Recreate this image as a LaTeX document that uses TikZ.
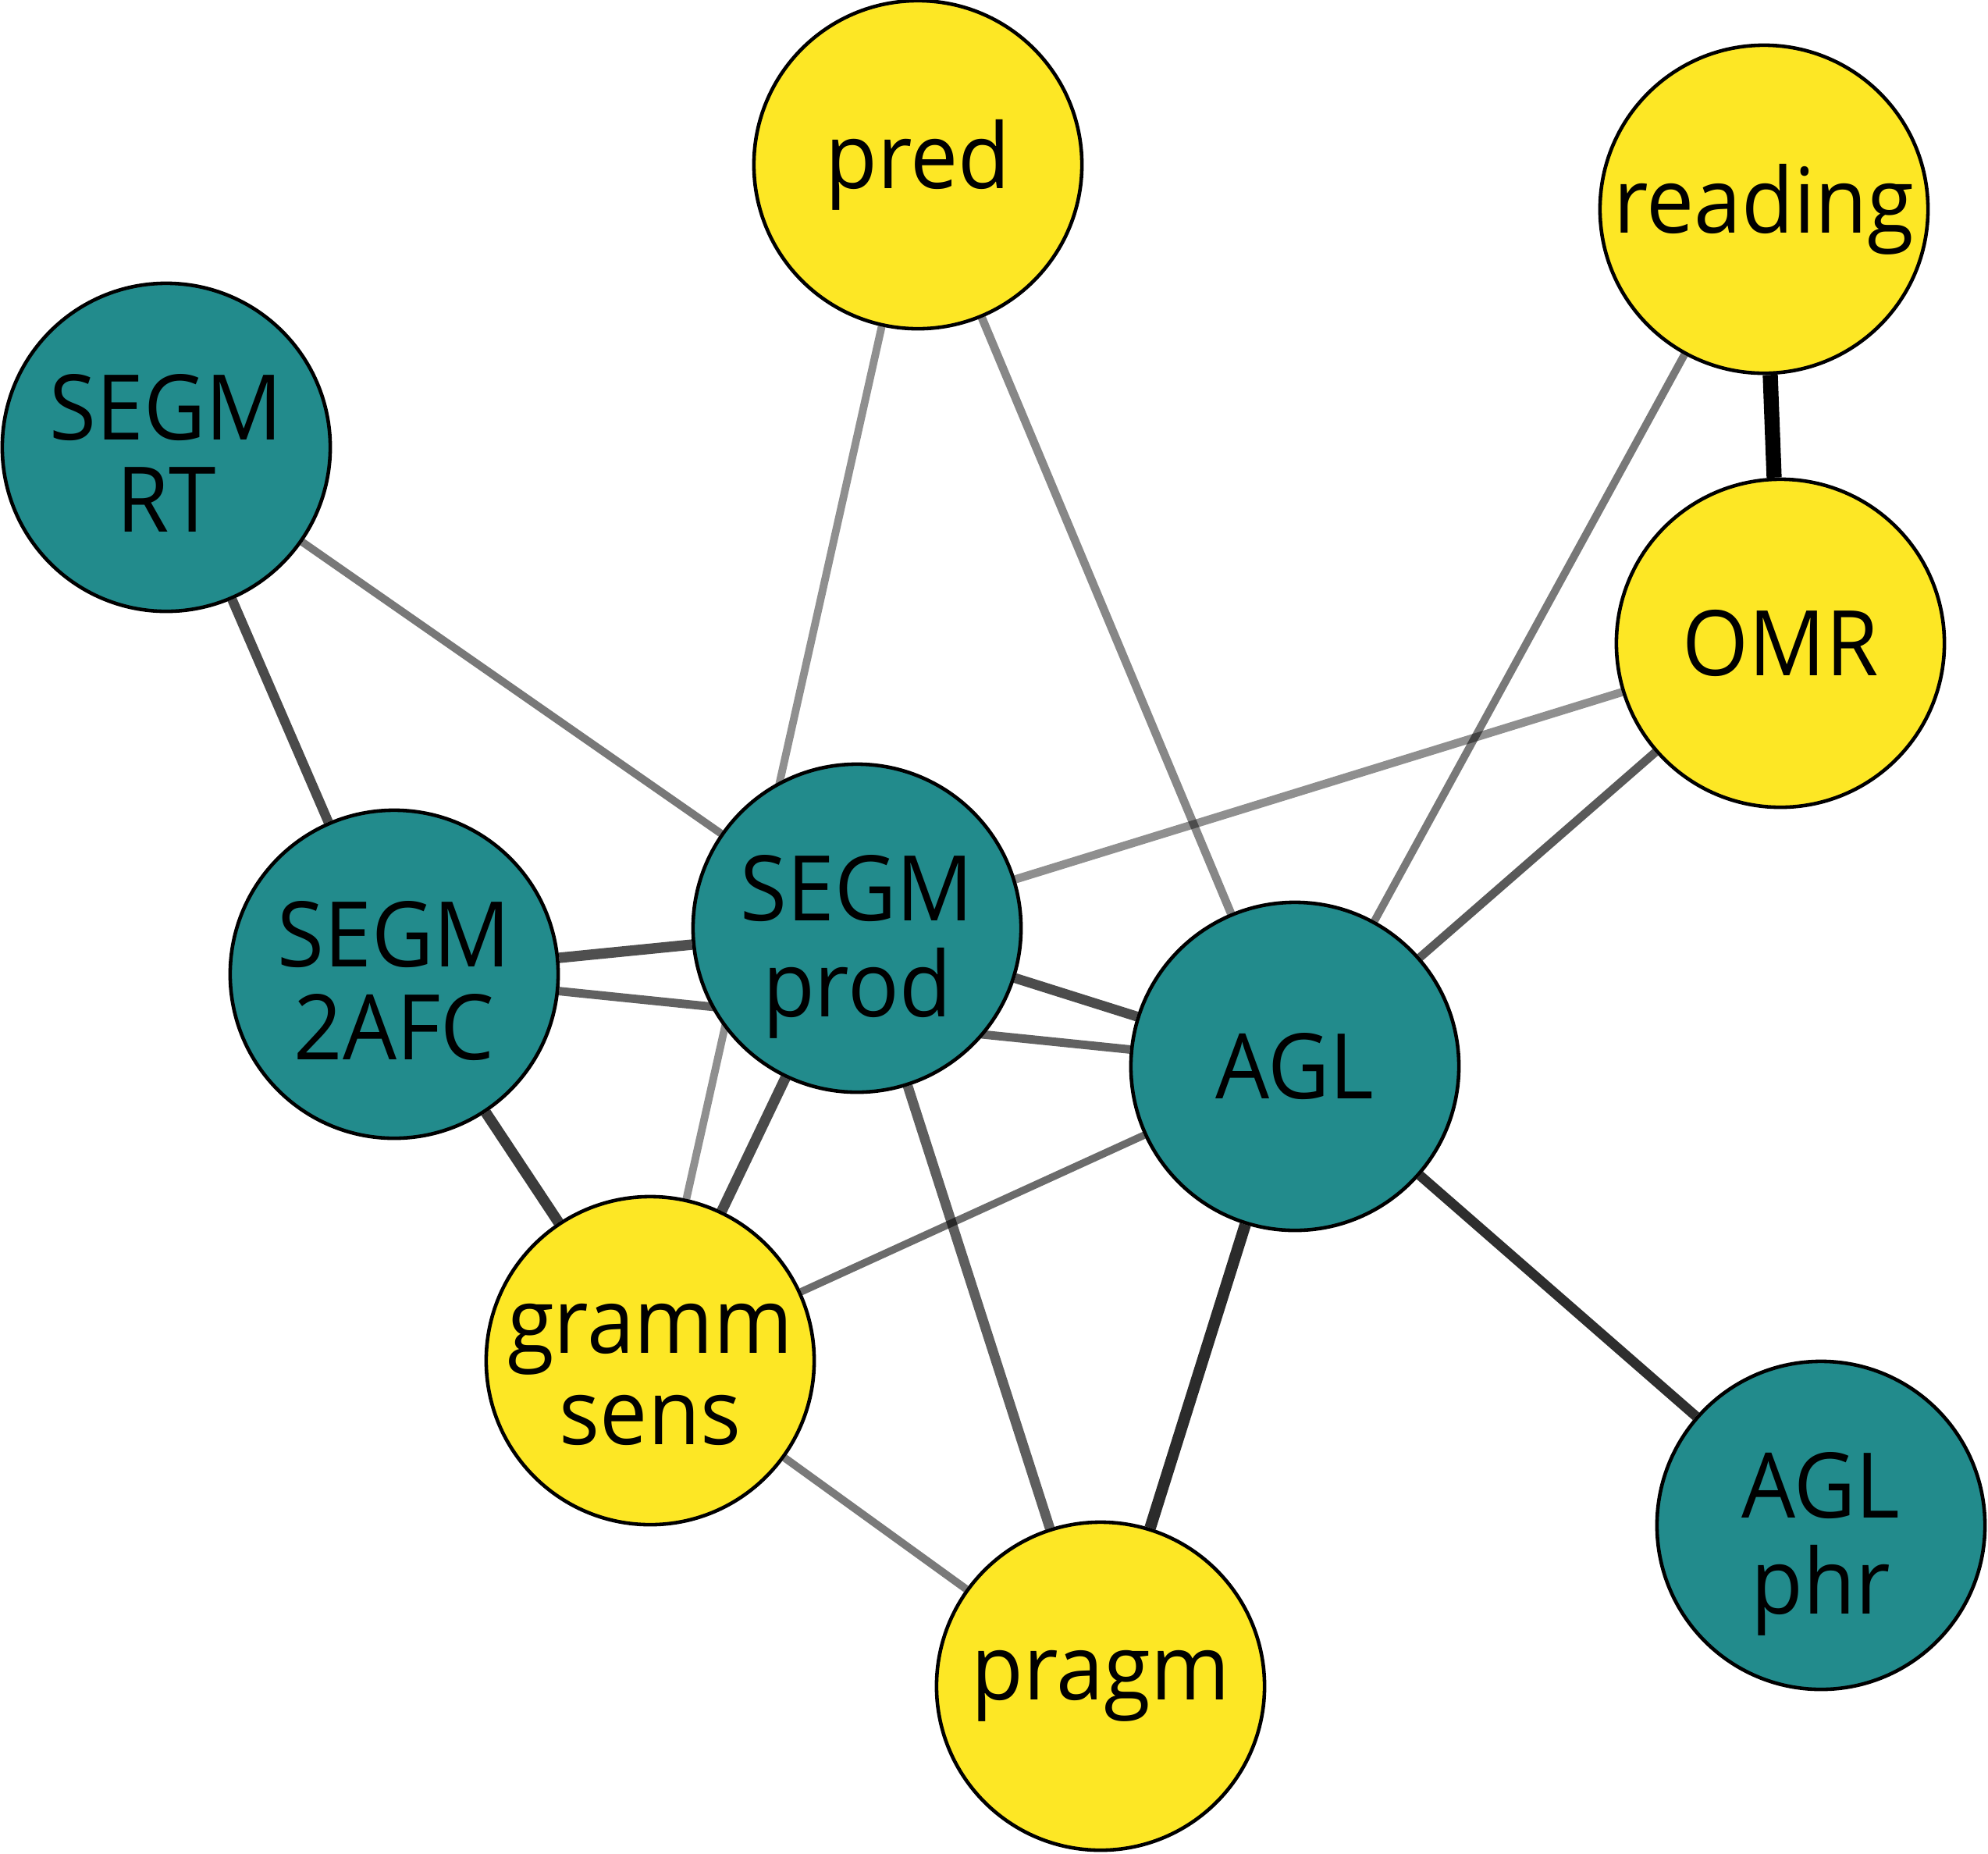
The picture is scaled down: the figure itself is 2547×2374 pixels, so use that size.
\documentclass[tikz,border=0pt]{standalone}
\usepackage{fontspec}
\setmainfont[FakeStretch=0.94]{Open Sans}
\usetikzlibrary{backgrounds}
\definecolor{teal1}{HTML}{228B8C}
\definecolor{yel1}{HTML}{FDE725}
\newcommand\twolines[2]{\raisebox{0.1cm}[0pt][0pt]{\begin{tabular}[t]{@{}c@{}}#1\\#2\end{tabular}}}
\begin{document}
\begin{tikzpicture}[x=0.01cm,y=-0.01cm,
  vnode/.style={circle,draw=black,line width=1.3pt,minimum size=4.2cm,inner sep=0pt,align=center,
    font=\fontsize{33}{33.5}\selectfont},
  tnode/.style={vnode,fill=teal1},
  ynode/.style={vnode,fill=yel1},
  edge/.style={draw=black,line width=#1},
  ]
\useasboundingbox (0,0) rectangle (2547,2374);
\node[ynode] (pred) at (1176,211) {pred};
\node[ynode] (reading) at (2260,268) {reading};
\node[tnode] (rt) at (213,573) {\twolines{SEGM}{RT}};
\node[ynode] (omr) at (2281,824) {OMR};
\node[tnode] (afc) at (505,1248) {\twolines{SEGM}{2AFC}};
\node[tnode] (prod) at (1098,1189) {\twolines{SEGM}{prod}};
\node[tnode] (agl) at (1659,1366) {AGL};
\node[ynode] (gramm) at (833,1743) {\twolines{gramm}{sens}};
\node[ynode] (pragm) at (1410,2160) {pragm};
\node[tnode] (phr) at (2333,1954) {\twolines{AGL}{phr}};
\begin{pgfonlayer}{background}
\draw[edge=2.8pt,draw opacity=0.44] (pred) -- (gramm);
\draw[edge=3.0pt,draw opacity=0.47] (pred) -- (agl);
\draw[edge=5.5pt,draw opacity=1] (reading) -- (omr);
\draw[edge=2.8pt,draw opacity=0.53] (reading) -- (agl);
\draw[edge=2.8pt,draw opacity=0.53] (rt) -- (prod);
\draw[edge=3.5pt,draw opacity=0.71] (rt) -- (afc);
\draw[edge=3.0pt,draw opacity=0.44] (omr) -- (prod);
\draw[edge=3.1pt,draw opacity=0.65] (omr) -- (agl);
\draw[edge=3.8pt,draw opacity=0.69] (afc) -- (prod);
\draw[edge=3.1pt,draw opacity=0.62] (afc) -- (agl);
\draw[edge=3.6pt,draw opacity=0.7] (prod) -- (agl);
\draw[edge=3.9pt,draw opacity=0.77] (afc) -- (gramm);
\draw[edge=3.8pt,draw opacity=0.71] (prod) -- (gramm);
\draw[edge=3.6pt,draw opacity=0.63] (prod) -- (pragm);
\draw[edge=2.7pt,draw opacity=0.58] (agl) -- (gramm);
\draw[edge=4.2pt,draw opacity=0.83] (agl) -- (pragm);
\draw[edge=3.6pt,draw opacity=0.82] (agl) -- (phr);
\draw[edge=2.8pt,draw opacity=0.52] (gramm) -- (pragm);
\end{pgfonlayer}
\end{tikzpicture}
\end{document}
